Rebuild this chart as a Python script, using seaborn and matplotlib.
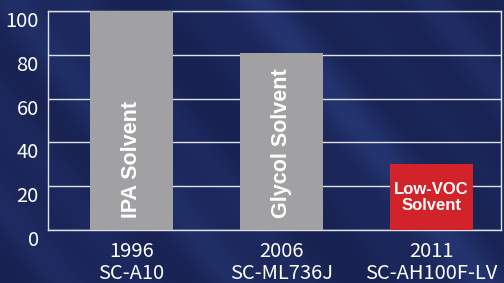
import numpy as np
import pandas as pd
import matplotlib
matplotlib.use("Agg")
import matplotlib.pyplot as plt
from matplotlib.transforms import ScaledTranslation
import seaborn as sns

# chart data
years = ["1996", "2006", "2011"]
products = ["SC-A10", "SC-ML736J", "SC-AH100F-LV"]
values = [100, 81, 30]
solvents = ["IPA Solvent", "Glycol Solvent", "Low-VOC\nSolvent"]
bar_colors = ["#a1a1a3", "#a1a1a3", "#d2232b"]

labels = [f"{y}\n{p}" for y, p in zip(years, products)]
df = pd.DataFrame({"label": labels, "value": values})

sns.set_style("dark")
plt.rcParams["font.family"] = ["Noto Sans CJK JP", "DejaVu Sans"]

fig = plt.figure(figsize=(5.04, 2.83), dpi=100)

# navy background with soft diagonal streaks
bg = fig.add_axes([0, 0, 1, 1], zorder=-10)
h, w = 283, 504
yy, xx = np.mgrid[0:h, 0:w]
u = 1.25 * xx - yy
shade = (0.5 * np.sin(u / 38.0) + 0.35 * np.sin(u / 17.0 + 1.3)
         + 0.3 * np.sin(u / 61.0 + 2.1))
shade = (shade - shade.min()) / (shade.max() - shade.min())
dark = np.array([24, 34, 82]) / 255.0
light = np.array([36, 52, 112]) / 255.0
img = dark + (light - dark) * shade[..., None] ** 2.0
bg.imshow(img, aspect="auto", extent=[0, 1, 0, 1])
bg.set_axis_off()

ax = fig.add_axes([0.0962, 0.187, 0.898, 0.774])
ax.set_facecolor("none")
sns.barplot(data=df, x="label", y="value", hue="label", palette=bar_colors,
            legend=False, width=0.553, saturation=1, linewidth=0,
            edgecolor="none", ax=ax, zorder=3)

ax.set_xlim(-0.553, 2.463)
ax.set_ylim(0, 100)
ax.set_yticks([0, 20, 40, 60, 80, 100])
ax.grid(axis="y", color="#dfe2ea", linewidth=1.0, zorder=1)
ax.grid(axis="x", visible=False)
ax.set_axisbelow(True)
for s in ax.spines.values():
    s.set_visible(True)
    s.set_color("#dfe2ea")
    s.set_linewidth(1.0)
ax.spines["bottom"].set_zorder(2)

ax.set_xlabel("")
ax.set_ylabel("")
ax.tick_params(axis="both", length=0, colors="white", labelsize=14.5)
ax.tick_params(axis="y", pad=7)
ax.tick_params(axis="x", pad=8)
for lab in ax.get_yticklabels():
    lab.set_transform(lab.get_transform()
                      + ScaledTranslation(0, -0.08, fig.dpi_scale_trans))
for lab in ax.get_xticklabels():
    lab.set_linespacing(1.05)

# names inside the bars
ax.text(0, 5.5, solvents[0], rotation=90, ha="center", va="bottom",
        color="white", fontsize=15.5, fontweight="bold",
        family="Liberation Sans", zorder=5)
ax.text(1, 5.5, solvents[1], rotation=90, ha="center", va="bottom",
        color="white", fontsize=15.5, fontweight="bold",
        family="Liberation Sans", zorder=5)
ax.text(2, values[2] / 2, solvents[2], ha="center", va="center",
        color="white", fontsize=12, fontweight="bold",
        family="Liberation Sans", linespacing=1.05, zorder=5)

fig.savefig("out.png", dpi=100)
